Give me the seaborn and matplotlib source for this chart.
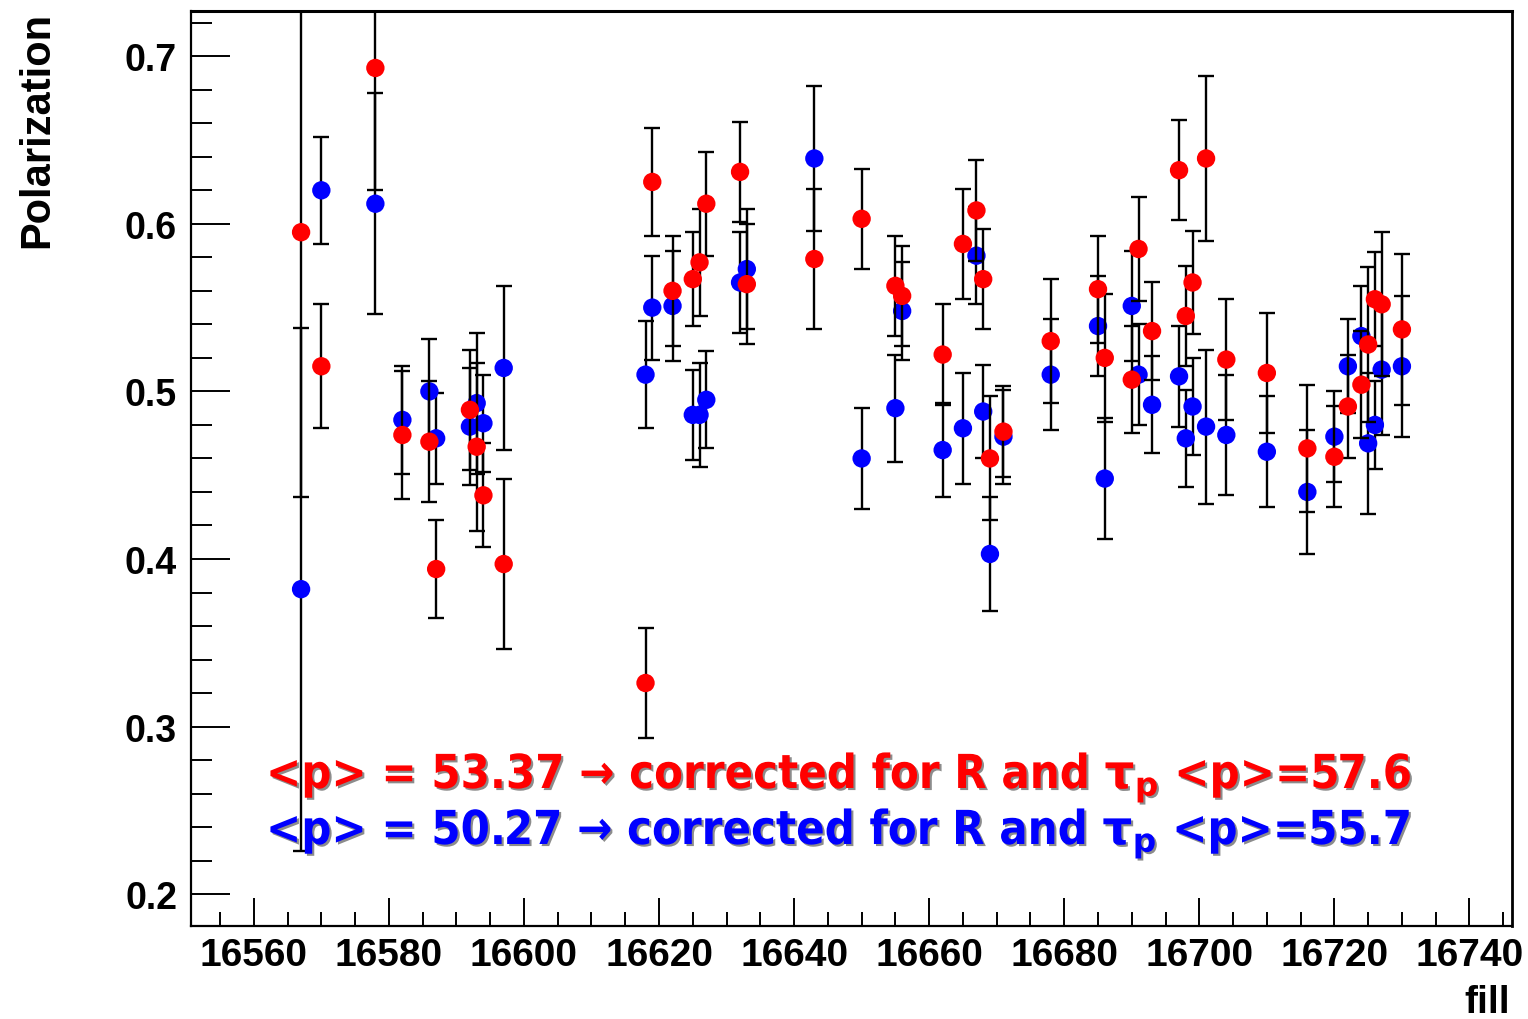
import matplotlib
matplotlib.use("Agg")
import matplotlib.pyplot as plt
import matplotlib.patheffects as pe
from matplotlib.ticker import MultipleLocator
import pandas as pd
import seaborn as sns

# ---------------- data ----------------
fills = [16567, 16570, 16578, 16582, 16586, 16587, 16592, 16593, 16594, 16597,
         16618, 16619, 16622, 16625, 16626, 16627, 16632, 16633, 16643, 16650,
         16655, 16656, 16662, 16665, 16667, 16668, 16669, 16671, 16678, 16685,
         16686, 16690, 16691, 16693, 16697, 16698, 16699, 16701, 16704, 16710,
         16716, 16720, 16722, 16724, 16725, 16726, 16727, 16730]

red_pol = [0.595, 0.515, 0.693, 0.474, 0.470, 0.394, 0.489, 0.467, 0.438, 0.397,
           0.326, 0.625, 0.560, 0.567, 0.577, 0.612, 0.631, 0.564, 0.579, 0.603,
           0.563, 0.557, 0.522, 0.588, 0.608, 0.567, 0.460, 0.476, 0.530, 0.561,
           0.520, 0.507, 0.585, 0.536, 0.632, 0.545, 0.565, 0.639, 0.519, 0.511,
           0.466, 0.461, 0.491, 0.504, 0.528, 0.555, 0.552, 0.537]
red_err = [0.158, 0.037, 0.073, 0.038, 0.036, 0.029, 0.036, 0.050, 0.031, 0.051,
           0.033, 0.032, 0.033, 0.028, 0.032, 0.031, 0.030, 0.036, 0.042, 0.030,
           0.030, 0.030, 0.030, 0.033, 0.030, 0.030, 0.037, 0.027, 0.037, 0.032,
           0.038, 0.032, 0.031, 0.029, 0.030, 0.030, 0.031, 0.049, 0.036, 0.036,
           0.038, 0.030, 0.031, 0.032, 0.046, 0.028, 0.043, 0.045]

blue_pol = [0.382, 0.620, 0.612, 0.483, 0.500, 0.472, 0.479, 0.493, 0.481, 0.514,
            0.510, 0.550, 0.551, 0.486, 0.486, 0.495, 0.565, 0.573, 0.639, 0.460,
            0.490, 0.548, 0.465, 0.478, 0.581, 0.488, 0.403, 0.473, 0.510, 0.539,
            0.448, 0.551, 0.510, 0.492, 0.509, 0.472, 0.491, 0.479, 0.474, 0.464,
            0.440, 0.473, 0.515, 0.533, 0.469, 0.480, 0.513, 0.515]
blue_err = [0.156, 0.032, 0.066, 0.032, 0.031, 0.027, 0.035, 0.042, 0.029, 0.049,
            0.032, 0.031, 0.033, 0.027, 0.031, 0.029, 0.030, 0.036, 0.043, 0.030,
            0.032, 0.029, 0.028, 0.033, 0.029, 0.028, 0.034, 0.028, 0.033, 0.030,
            0.036, 0.033, 0.030, 0.029, 0.030, 0.029, 0.029, 0.046, 0.036, 0.033,
            0.037, 0.027, 0.028, 0.030, 0.042, 0.026, 0.039, 0.042]

red_text = r"<p> = 53.37 → corrected for R and $\mathbf{\tau_p}$ <p>=57.6"
blue_text = r"<p> = 50.27 → corrected for R and $\mathbf{\tau_p}$ <p>=55.7"

x_label = "fill"
y_label = "Polarization"

# ---------------- styling ----------------
sns.set_style("white")
plt.rcParams['font.family'] = ['Liberation Sans', 'DejaVu Sans']
plt.rcParams['font.weight'] = 'bold'
plt.rcParams['mathtext.fontset'] = 'dejavusans'
for key in ['text.color', 'axes.labelcolor', 'xtick.color', 'ytick.color',
            'xtick.labelcolor', 'ytick.labelcolor']:
    plt.rcParams[key] = 'black'

W, H = 1528, 1020
fig = plt.figure(figsize=(W / 100, H / 100), dpi=100)
fig.patch.set_facecolor('white')
ax = fig.add_axes([191 / W, 1 - 927 / H, (1512 - 191) / W, (927 - 12) / H])

df = pd.concat([
    pd.DataFrame({'fill': fills, 'pol': blue_pol, 'err': blue_err, 'set': 'blue'}),
    pd.DataFrame({'fill': fills, 'pol': red_pol, 'err': red_err, 'set': 'red'}),
], ignore_index=True)

for name, color, z in [('blue', '#0000ff', 2), ('red', '#ff0000', 4)]:
    sub = df[df['set'] == name]
    ax.errorbar(sub['fill'], sub['pol'], yerr=sub['err'], fmt='none',
                ecolor='black', elinewidth=1.7, capsize=5.5, capthick=1.7,
                zorder=z)
    sns.scatterplot(data=sub, x='fill', y='pol', color=color, s=175,
                    edgecolor='none', linewidth=0, ax=ax, zorder=z + 1,
                    legend=False)

ax.set_xlim(16550.7, 16746.3)
ax.set_ylim(0.181, 0.727)
ax.xaxis.set_major_locator(MultipleLocator(20))
ax.xaxis.set_minor_locator(MultipleLocator(5))
ax.yaxis.set_major_locator(MultipleLocator(0.1))
ax.yaxis.set_minor_locator(MultipleLocator(0.02))
ax.ticklabel_format(axis='x', useOffset=False, style='plain')

ax.tick_params(axis='both', which='both', direction='in', top=False, right=False,
               left=True, bottom=True, color='black', labelcolor='black')
ax.tick_params(axis='y', which='major', length=28, width=1.4, labelsize=27, pad=10)
ax.tick_params(axis='y', which='minor', length=15, width=1.4)
ax.tick_params(axis='x', which='major', length=20, width=1.4, labelsize=28, pad=8)
ax.tick_params(axis='x', which='minor', length=10, width=1.4)

for side, lw in [('left', 1.6), ('bottom', 1.6), ('top', 2.2), ('right', 2.0)]:
    ax.spines[side].set_visible(True)
    ax.spines[side].set_color('black')
    ax.spines[side].set_linewidth(lw)

ax.set_xlabel(x_label, loc='right', fontsize=28, fontweight='bold')
ax.xaxis.set_label_coords(0.9985, -0.063)
ax.set_ylabel(y_label, loc='top', fontsize=30, fontweight='bold')
ax.yaxis.set_label_coords(-0.1014, 1.0)

shadow = [pe.SimplePatchShadow(offset=(1.5, -1.5), shadow_rgbFace='black', alpha=0.45),
          pe.Normal()]
t_red = fig.text(266 / W, 1 - 789 / H, red_text, color='#ff0000', fontsize=30,
                 fontweight='bold', family=['DejaVu Sans'], fontstretch='condensed',
                 ha='left', va='baseline', path_effects=shadow)
t_blue = fig.text(266 / W, 1 - 845 / H, blue_text, color='#0000ff', fontsize=30,
                  fontweight='bold', family=['DejaVu Sans'], fontstretch='condensed',
                  ha='left', va='baseline', path_effects=shadow)

# fit the annotation width to the reference (about 1145 px)
fig.canvas.draw()
renderer = fig.canvas.get_renderer()
wr = t_red.get_window_extent(renderer).width
fs = 30 * 1145.0 / wr
t_red.set_fontsize(fs)
t_blue.set_fontsize(fs)

fig.savefig("out.png", dpi=100, facecolor='white')
